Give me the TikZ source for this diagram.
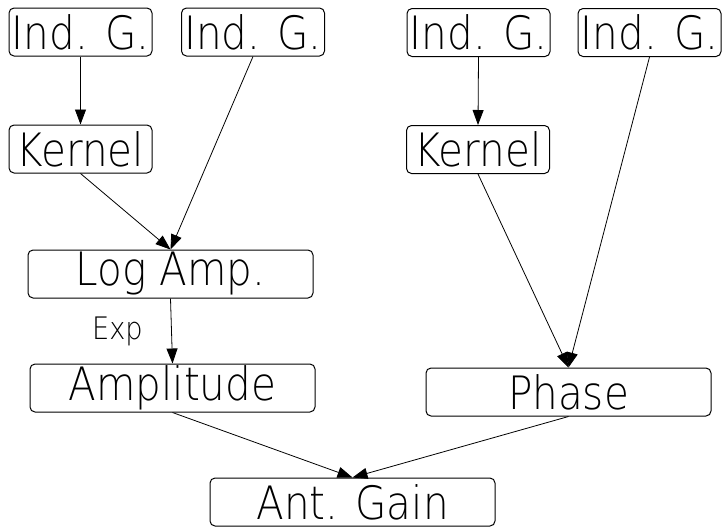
\documentclass[tikz,border=0pt]{standalone}
\usepackage{fontspec}
\setmainfont{DejaVu Sans ExtraLight}[FakeStretch=0.88]
\usetikzlibrary{arrows.meta}
\tikzset{
  blok/.style={draw,rounded corners=5pt,minimum height=48pt,inner sep=0pt,font=\fontsize{46}{50}\selectfont},
  mali/.style={blok,minimum width=143pt},
  veliki/.style={blok,minimum width=285pt},
  veza/.style={-{Triangle[length=15pt,width=11pt]},line width=0.8pt}
}
\begin{document}
\begin{tikzpicture}[x=1pt,y=-1pt,line width=1pt]
\useasboundingbox (0,0) rectangle (722,528);
\node[mali] (ig1) at (80.5,32) {Ind. G.};
\node[mali] (ig2) at (253,32) {Ind. G.};
\node[mali] (ig3) at (478.5,32.5) {Ind. G.};
\node[mali] (ig4) at (649.5,32.5) {Ind. G.};
\node[mali] (ker1) at (80.5,149) {Kernel};
\node[mali] (ker2) at (478,149.5) {Kernel};
\node[veliki] (log) at (170.5,274) {Log Amp.};
\node[veliki] (amp) at (172.5,388) {Amplitude};
\node[veliki] (faza) at (568.5,392) {Phase};
\node[veliki] (ant) at (352.5,502) {Ant. Gain};
\draw[veza] (ig1.south)--(ker1.north);
\draw[veza] (ig3.south)--(ker2.north);
\draw[veza] (ker1.south)--(log.north);
\draw[veza] (ig2.south)--(log.north);
\draw[veza] (log.south)--(amp.north) node[midway,left=25pt,font=\fontsize{31}{33}\selectfont] (exp) {Exp};
\draw[veza] (ker2.south)--(faza.north);
\draw[veza] (ig4.south)--(faza.north);
\draw[veza] (amp.south)--(ant.north);
\draw[veza] (faza.south)--(ant.north);
\end{tikzpicture}
\end{document}
